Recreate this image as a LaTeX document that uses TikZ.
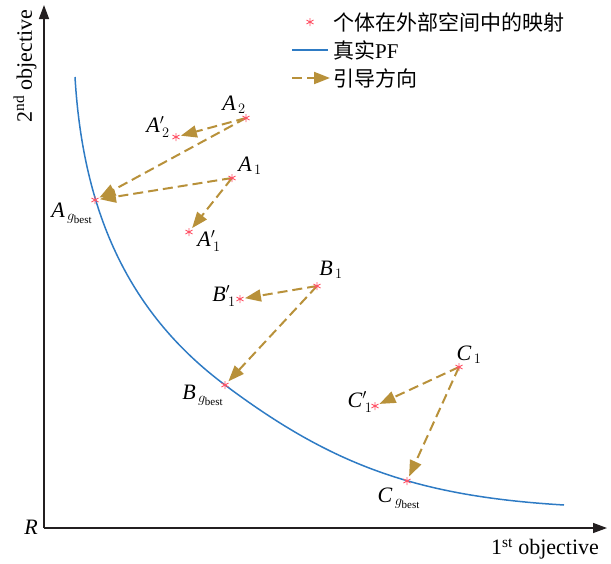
\documentclass[tikz,border=0pt]{standalone}
\usepackage{fontspec}
\setmainfont{Liberation Serif}
\newfontfamily\cjk{Noto Sans CJK SC}
\usetikzlibrary{arrows.meta}
\definecolor{pfblue}{HTML}{2E7BC4}
\definecolor{guide}{HTML}{B8913A}
\definecolor{ptred}{HTML}{FF5266}
\definecolor{axiscol}{HTML}{231F20}
\newcommand\gb[1]{\textit{#1}$_{\,g_{\mathrm{best}}}$}
\newcommand\lb[2]{\textit{#1}$_{\,#2}$}
\newcommand\lbp[2]{\textit{#1}$'_{\,#2}$}
\begin{document}
\begin{tikzpicture}[x=1pt,y=-1pt,
  guidearrow/.style={guide, line width=2pt, dash pattern=on 10pt off 5pt, -{Triangle[length=16pt,width=12pt]}},
  axisline/.style={axiscol, line width=1.4pt, -{Triangle[length=14pt,width=10pt]}},
  lab/.style={font=\fontsize{22}{26}\selectfont, inner sep=0pt},
  ast/.pic={\draw[ptred, line width=0.9pt] (0,-4)--(0,4) (-3.5,-2)--(3.5,2) (-3.5,2)--(3.5,-2);},
  font=\fontsize{22}{26}\selectfont
]
\useasboundingbox (0,0) rectangle (611,563);

% axes
\coordinate (O) at (44,528);
\coordinate (Ytop) at (44,5);
\coordinate (Xend) at (607,528);
\draw[axisline] (O) -- (Ytop);
\draw[axisline] (O) -- (Xend);
\node[lab] (R) at (31,527) {\textit{R}};
\node[lab, rotate=90] (ylab) at (25,66) {2\textsuperscript{nd} objective};
\node[lab] (xlab) at (545,549) {1\textsuperscript{st} objective};

% true PF
\coordinate (pf0) at (75,77);
\coordinate (pfm) at (225,385);
\coordinate (pf1) at (564,505);
\draw[pfblue, line width=1.5pt] (pf0) .. controls (83.2,216.4) and (131.2,315) .. (pfm)
  .. controls (333.3,466.2) and (418.1,496.2) .. (pf1);

% points
\coordinate (A2) at (246,118);
\coordinate (A2p) at (176,137);
\coordinate (A1) at (232,178);
\coordinate (Ag) at (95,200);
\coordinate (A1p) at (189,232);
\coordinate (B1) at (317,286);
\coordinate (B1p) at (240,299);
\coordinate (Bg) at (225,385);
\coordinate (C1) at (459,367);
\coordinate (C1p) at (375,406);
\coordinate (Cg) at (407,481);

\draw[guidearrow, shorten >=5pt] (A2) -- (A2p);
\draw[guidearrow, shorten >=5pt] (A2) -- (Ag);
\draw[guidearrow, shorten >=5pt] (A1) -- (Ag);
\draw[guidearrow, shorten >=5pt] (A1) -- (A1p);
\draw[guidearrow, shorten >=5pt] (B1) -- (B1p);
\draw[guidearrow, shorten >=5pt] (B1) -- (Bg);
\draw[guidearrow, shorten >=5pt] (C1) -- (C1p);
\draw[guidearrow, shorten >=5pt] (C1) -- (Cg);

\foreach \p in {A2,A2p,A1,Ag,A1p,B1,B1p,Bg,C1,C1p,Cg} \pic at (\p) {ast};

% labels
\node[lab] (lA2) at (234,105) {\lb{A}{2}};
\node[lab] (lA2p) at (158,127) {\lbp{A}{2}};
\node[lab] (lA1) at (250,166) {\lb{A}{1}};
\node[lab] (lAg) at (72,213) {\gb{A}};
\node[lab] (lA1p) at (209,241) {\lbp{A}{1}};
\node[lab] (lB1) at (331,270) {\lb{B}{1}};
\node[lab] (lB1p) at (224,296) {\lbp{B}{1}};
\node[lab] (lBg) at (203,395) {\gb{B}};
\node[lab] (lC1) at (469,355) {\lb{C}{1}};
\node[lab] (lC1p) at (360,402) {\lbp{C}{1}};
\node[lab] (lCg) at (399,498) {\gb{C}};

% legend
\pic at (310,22) {ast};
\node[lab, anchor=west] (leg1) at (333,22) {\fontsize{21}{25}\selectfont\cjk 个体在外部空间中的映射};
\coordinate (l2a) at (292,50);
\coordinate (l2b) at (328,50);
\draw[pfblue, line width=1.5pt] (l2a) -- (l2b);
\node[lab, anchor=west] (leg2) at (333,50) {\fontsize{21}{25}\selectfont{\cjk 真实}PF};
\coordinate (l3a) at (292,78);
\coordinate (l3b) at (330,78);
\draw[guidearrow] (l3a) -- (l3b);
\node[lab, anchor=west] (leg3) at (333,78) {\fontsize{21}{25}\selectfont\cjk 引导方向};
\end{tikzpicture}
\end{document}
